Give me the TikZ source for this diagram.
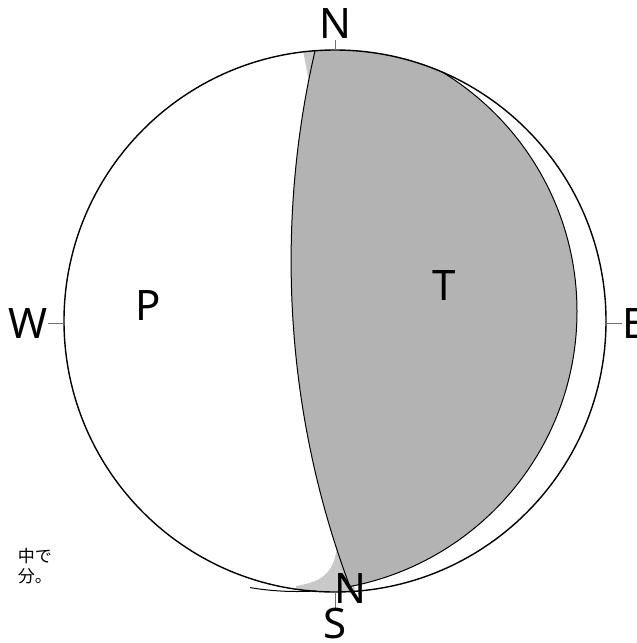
\documentclass[tikz,border=0pt]{standalone}
\usepackage{fontspec}
\setmainfont{Noto Sans}
\newfontfamily\cjk{Noto Sans CJK JP}
\definecolor{tgray}{RGB}{179,179,179}
\definecolor{lgray}{RGB}{200,200,200}
\definecolor{tickgray}{RGB}{110,110,110}
\tikzset{
  lbl/.style={inner sep=0pt, font=\fontsize{42}{48}\selectfont, anchor=base},
  tickline/.style={draw=tickgray, line width=1pt},
  rim/.style={draw=black, line width=1.4pt},
  edge/.style={draw=black, line width=1pt},
  jp/.style={inner sep=0pt, font=\cjk\fontsize{17}{20}\selectfont, anchor=base east},
}
\begin{document}
\begin{tikzpicture}[x=1pt,y=-1pt]
\useasboundingbox (0,0) rectangle (637,643);
\coordinate (M) at (335,321);
\coordinate (CB) at (297,311.5);
\coordinate (NP) at (1217.7,261);
% light halos
\begin{scope}
  \clip (M) circle[radius=271];
  \fill[lgray] (302,45) -- (318,45) -- (309,82) -- cycle;
  \fill[lgray] (337,548) .. controls (333,575) and (320,582) .. (296,586) -- (296,600) -- (360,600) -- cycle;
\end{scope}
% gray T region
\begin{scope}
  \clip (M) circle[radius=271];
  \clip (CB) circle[radius=280];
  \fill[tgray] (NP) circle[radius=926.6];
\end{scope}
% boundary of T region (second arc)
\begin{scope}
  \clip (M) circle[radius=271];
  \clip (NP) circle[radius=926.6];
  \draw[edge] (CB) circle[radius=280];
\end{scope}
\begin{scope}
  \clip (250,585) rectangle (316,610);
  \draw[edge] (CB) circle[radius=280];
\end{scope}
% nodal line
\begin{scope}
  \clip (M) circle[radius=271];
  \draw[edge] (NP) circle[radius=926.6];
\end{scope}
% primitive circle
\draw[rim] (M) circle[radius=271];
% ticks
\coordinate (tN) at (335,40);
\coordinate (tS) at (335,610);
\coordinate (tW) at (48,323);
\coordinate (tE) at (622,323);
\draw[tickline] (tN) -- (335,50);
\draw[tickline] (tS) -- (335,592);
\draw[tickline] (tW) -- (64,323);
\draw[tickline] (tE) -- (606,323);
% labels
\node[lbl] (lN) at (335,38) {N};
\node[lbl] (lS) at (335,638) {S};
\node[lbl, anchor=base east] (lW) at (48,338) {W};
\node[lbl, anchor=base west] (lE) at (622,338) {E};
\node[lbl] (lP) at (148,320) {P};
\node[lbl] (lT) at (444,300) {T};
\node[lbl] (lN2) at (350,603) {N};
% caption fragment
\node[jp] (j1) at (52,562) {中で};
\node[jp] (j2) at (52,582) {分。};
\end{tikzpicture}
\end{document}
